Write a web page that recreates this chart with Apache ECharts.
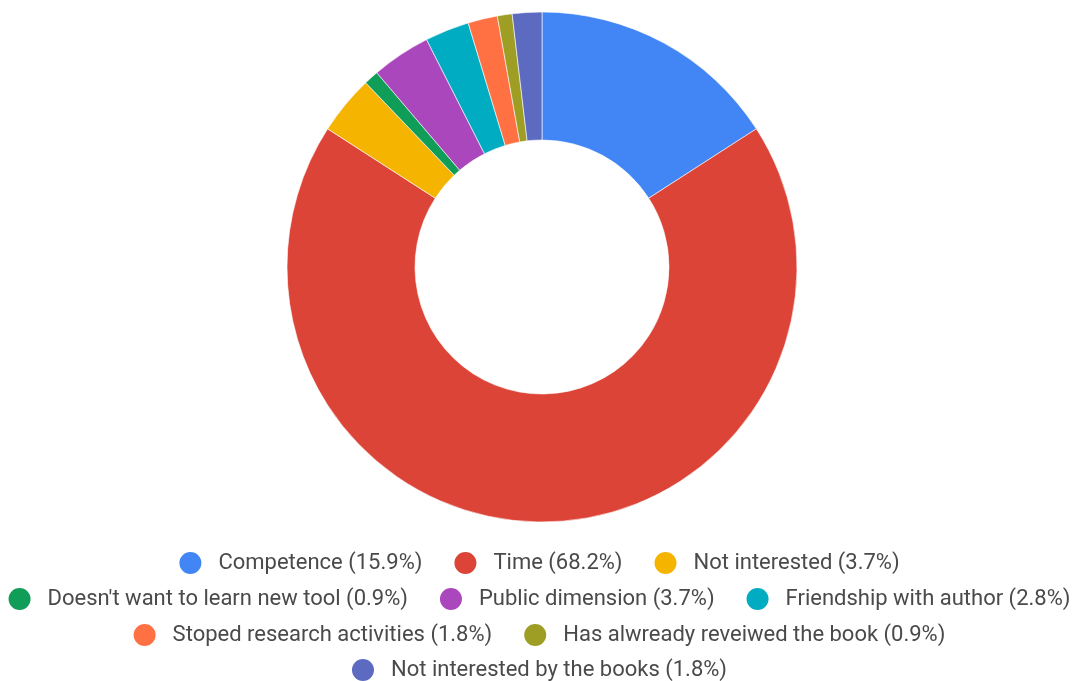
<!DOCTYPE html>
<html>
<head>
<meta charset="utf-8">
<script src="https://cdn.jsdelivr.net/npm/echarts@6/dist/echarts.min.js"></script>
<style>
html,body{margin:0;padding:0;background:#fff;}
#chart{width:1077px;height:681px;}
</style>
</head>
<body>
<div id="chart"></div>
<script>
var categories = [
  "Competence",
  "Time",
  "Not interested",
  "Doesn't want to learn new tool",
  "Public dimension",
  "Friendship with author",
  "Stoped research activities",
  "Has alwready reveiwed the book",
  "Not interested by the books"
];
var counts = [17, 73, 4, 1, 4, 3, 2, 1, 2];
var percentLabels = ["15.9%", "68.2%", "3.7%", "0.9%", "3.7%", "2.8%", "1.8%", "0.9%", "1.8%"];
var colors = ["#4285f4", "#db4437", "#f4b400", "#0f9d58", "#ab47bc", "#00acc1", "#ff7043", "#9e9d24", "#5c6bc0"];
var legendRows = [[0, 1, 2], [3, 4, 5], [6, 7], [8]];
var legendTops = [545, 581, 617, 652];

var chart = echarts.init(document.getElementById('chart'));
var data = categories.map(function (c, i) {
  return { name: c, value: counts[i], itemStyle: { color: colors[i] } };
});
var legends = legendRows.map(function (row, r) {
  return {
    top: legendTops[r],
    left: 'center',
    orient: 'horizontal',
    icon: 'circle',
    itemWidth: 24,
    itemHeight: 24,
    itemGap: 30,
    selectedMode: false,
    data: row.map(function (i) { return categories[i]; }),
    formatter: function (name) {
      return name + ' (' + percentLabels[categories.indexOf(name)] + ')';
    },
    textStyle: {
      fontFamily: 'Roboto',
      fontSize: 22,
      color: '#4a4a4a',
      padding: [0, 0, 0, 11]
    }
  };
});
chart.setOption({
  animation: false,
  backgroundColor: '#ffffff',
  legend: legends,
  series: [{
    type: 'pie',
    center: [542, 267],
    radius: [127, 255],
    startAngle: 90,
    clockwise: true,
    label: { show: false },
    labelLine: { show: false },
    itemStyle: { borderColor: '#ffffff', borderWidth: 0.6 },
    emphasis: { disabled: true },
    data: data
  }]
});
</script>
</body>
</html>
